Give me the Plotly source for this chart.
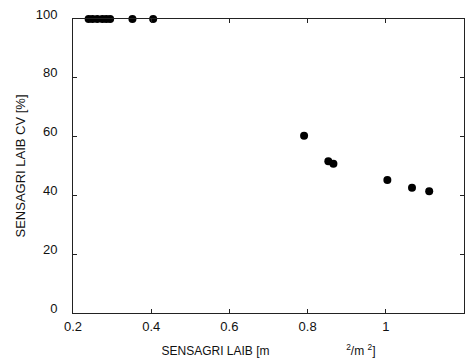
import plotly.graph_objects as go

laib = [0.24, 0.25, 0.262, 0.275, 0.285, 0.295, 0.352, 0.405,
        0.791, 0.853, 0.866, 1.004, 1.067, 1.111]
cv = [100, 100, 100, 100, 100, 100, 100, 100,
      60.3, 51.6, 50.8, 45.2, 42.6, 41.4]

x_ticks = [0.2, 0.4, 0.6, 0.8, 1.0, 1.2]
x_labels = ["0.2", "0.4", "0.6", "0.8", "1", "1.2"]
y_ticks = [0, 20, 40, 60, 80, 100]

FONT = "Liberation Sans, Arial"

fig = go.Figure()
fig.add_trace(go.Scatter(x=laib, y=cv, mode="markers",
                         marker=dict(color="black", size=8),
                         cliponaxis=False, showlegend=False))

axis_common = dict(showgrid=False, zeroline=False, showline=True, linecolor="#222",
                   linewidth=1, mirror="ticks", ticks="inside", ticklen=4,
                   tickcolor="#222", tickfont=dict(family=FONT, size=13, color="#111"))

fig.update_layout(
    width=466, height=362,
    margin=dict(l=73, r=2, t=19, b=49),
    paper_bgcolor="white", plot_bgcolor="white",
    font=dict(family=FONT, size=12, color="#111"),
    xaxis=dict(range=[0.2, 1.2], tickvals=x_ticks, ticktext=x_labels,
               ticklabelstandoff=1,
               title=dict(text="SENSAGRI LAIB [m                       <sup>2</sup>/m <sup>2</sup>]", standoff=14,
                          font=dict(family=FONT, size=12, color="#111")),
               **axis_common),
    yaxis=dict(range=[0, 100], tickvals=y_ticks,
               ticklabelstandoff=12, ticklabelshift=-5,
               title=dict(text="SENSAGRI LAIB CV [%]", standoff=7,
                          font=dict(family=FONT, size=13, color="#111")),
               **axis_common),
)
fig.write_html("out.html")
